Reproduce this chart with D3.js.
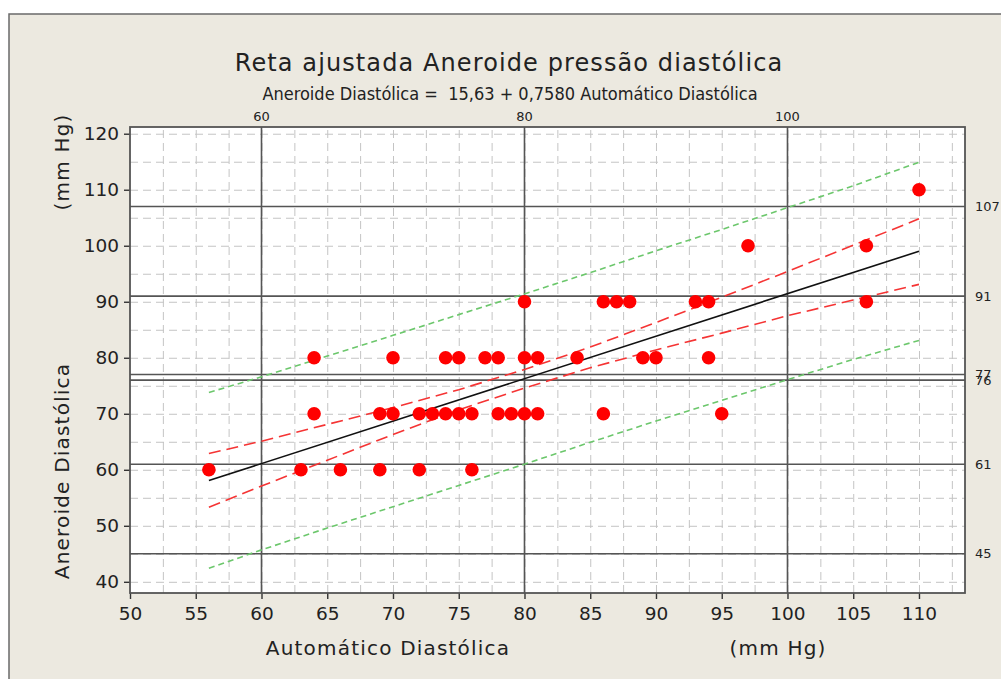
<!DOCTYPE html>
<html>
<head>
<meta charset="utf-8">
<script src="https://cdn.jsdelivr.net/npm/d3@7"></script>
<style>
    body { margin: 0; background: #ffffff; }
    text { font-family: "DejaVu Sans", Verdana, sans-serif; fill: #222; }
</style>
</head>
<body>
<div id="chart"></div>
<script>
// ---------------------------------------------------------------------------- //
//                                     Data                                     //
// ---------------------------------------------------------------------------- //
var titleText = "Reta ajustada Aneroide pressão diastólica";
var subtitleText = "Aneroide Diastólica =  15,63 + 0,7580 Automático Diastólica";

// observed points (Automático, Aneroide)
var pointsX = [110, 97, 106,
    80, 86, 87, 88, 93, 94, 106,
    64, 70, 74, 75, 77, 78, 80, 81, 84, 89, 90, 94,
    64, 69, 70, 72, 73, 74, 75, 76, 78, 79, 80, 81, 86, 95,
    56, 63, 66, 69, 72, 76];
var pointsY = [110, 100, 100,
    90, 90, 90, 90, 90, 90, 90,
    80, 80, 80, 80, 80, 80, 80, 80, 80, 80, 80, 80,
    70, 70, 70, 70, 70, 70, 70, 70, 70, 70, 70, 70, 70, 70,
    60, 60, 60, 60, 60, 60];

// fitted line ends
var fitX = [56, 110];
var fitY = [58.08, 99.01];

// bands
var bandX   = [56, 60, 65, 70, 75, 80, 85, 90, 95, 100, 105, 110];
var ciUpper = [62.9, 65.1, 68.1, 71.1, 74.3, 77.9, 81.9, 86.3, 90.8, 95.4, 100.1, 104.8];
var ciLower = [53.3, 57.1, 61.7, 66.3, 70.7, 74.6, 78.2, 81.4, 84.4, 87.5, 90.3, 93.1];
var piUpper = [73.8, 76.6, 80.3, 84.0, 87.7, 91.4, 95.2, 99.1, 102.9, 106.8, 110.7, 114.9];
var piLower = [42.4, 45.7, 49.6, 53.4, 57.2, 61.0, 64.9, 68.7, 72.4, 76.1, 79.7, 83.1];

// reference lines
var refX = [60, 80, 100];
var refY = [107, 91, 77, 76, 61, 45];

// axis ticks
var xTicks = [50, 55, 60, 65, 70, 75, 80, 85, 90, 95, 100, 105, 110];
var yTicks = [40, 50, 60, 70, 80, 90, 100, 110, 120];

// ---------------------------------------------------------------------------- //
//                                    Drawing                                   //
// ---------------------------------------------------------------------------- //
var W = 1001, H = 679;
var plot = {left: 130, right: 965, top: 127, bottom: 593};

var svg = d3.select("#chart").append("svg")
    .attr("width", W)
    .attr("height", H);

// Frame
//_______________
svg.append("rect")
    .attr("x", 9).attr("y", 14)
    .attr("width", W + 20).attr("height", H + 20)
    .attr("fill", "#ece9e0")
    .attr("stroke", "#6a6a6a")
    .attr("stroke-width", 1.5);

// Scales
//_______________
var x = d3.scaleLinear().domain([50, 113.5]).range([plot.left, plot.right]);
var y = d3.scaleLinear().domain([38, 121.2]).range([plot.bottom, plot.top]);

// plot area
svg.append("rect")
    .attr("x", plot.left).attr("y", plot.top)
    .attr("width", plot.right - plot.left)
    .attr("height", plot.bottom - plot.top)
    .attr("fill", "#ffffff");

// Grid
//_______________
svg.append("g")
    .attr("transform", "translate(0," + plot.bottom + ")")
    .call(d3.axisBottom(x).tickValues(d3.range(52.5, 113.5, 2.5))
        .tickSize(-(plot.bottom - plot.top)).tickFormat(""))
    .call(function(g){
        g.select(".domain").remove();
        g.selectAll("line").attr("stroke", "#c4c4c4").attr("stroke-dasharray", "8,5");
    });

svg.append("g")
    .attr("transform", "translate(" + plot.left + ",0)")
    .call(d3.axisLeft(y).tickValues(d3.range(40, 121, 5))
        .tickSize(-(plot.right - plot.left)).tickFormat(""))
    .call(function(g){
        g.select(".domain").remove();
        g.selectAll("line").attr("stroke", "#c4c4c4").attr("stroke-dasharray", "8,5");
    });

// Reference lines
//_______________
svg.selectAll(".refx").data(refX).enter().append("line")
    .attr("x1", function(d){ return x(d); }).attr("x2", function(d){ return x(d); })
    .attr("y1", plot.top).attr("y2", plot.bottom)
    .attr("stroke", "#555").attr("stroke-width", 1.6);

svg.selectAll(".refxlab").data(refX).enter().append("text")
    .attr("x", function(d){ return x(d); })
    .attr("y", plot.top - 6)
    .attr("text-anchor", "middle")
    .style("font-size", "13px")
    .text(function(d){ return d; });

svg.selectAll(".refy").data(refY).enter().append("line")
    .attr("x1", plot.left).attr("x2", plot.right)
    .attr("y1", function(d){ return y(d); }).attr("y2", function(d){ return y(d); })
    .attr("stroke", "#555").attr("stroke-width", 1.6);

svg.selectAll(".refylab").data(refY).enter().append("text")
    .attr("x", plot.right + 10)
    .attr("y", function(d){ return y(d); })
    .attr("dy", "0.36em")
    .style("font-size", "13px")
    .text(function(d){ return d; });

// Bands
//_______________
var bandLine = function(vals){
    return d3.line()
        .x(function(d, i){ return x(bandX[i]); })
        .y(function(d){ return y(d); })(vals);
};

[piUpper, piLower].forEach(function(v){
    svg.append("path")
        .attr("d", bandLine(v))
        .attr("fill", "none")
        .attr("stroke", "#6cc76c")
        .attr("stroke-width", 1.6)
        .attr("stroke-dasharray", "6,4");
});

[ciUpper, ciLower].forEach(function(v){
    svg.append("path")
        .attr("d", bandLine(v))
        .attr("fill", "none")
        .attr("stroke", "#f53434")
        .attr("stroke-width", 1.6)
        .attr("stroke-dasharray", "12,6");
});

// Fit line
//_______________
svg.append("path")
    .attr("d", d3.line()
        .x(function(d, i){ return x(fitX[i]); })
        .y(function(d){ return y(d); })(fitY))
    .attr("fill", "none")
    .attr("stroke", "#111")
    .attr("stroke-width", 1.6);

// Points
//_______________
svg.selectAll(".pt").data(pointsX).enter().append("circle")
    .attr("cx", function(d){ return x(d); })
    .attr("cy", function(d, i){ return y(pointsY[i]); })
    .attr("r", 6.8)
    .attr("fill", "#ff0000");

// Axes
//_______________
var xAxis = svg.append("g")
    .attr("transform", "translate(0," + plot.bottom + ")")
    .call(d3.axisBottom(x).tickValues(xTicks).tickSize(6).tickPadding(8));
var yAxis = svg.append("g")
    .attr("transform", "translate(" + plot.left + ",0)")
    .call(d3.axisLeft(y).tickValues(yTicks).tickSize(6).tickPadding(5));

[xAxis, yAxis].forEach(function(g){
    g.select(".domain").remove();
    g.selectAll("line").attr("stroke", "#333").attr("stroke-width", 1.4);
    g.selectAll("text").style("font-size", "18.5px")
        .style("font-family", "'DejaVu Sans', Verdana, sans-serif").attr("fill", "#222");
});

// plot border
svg.append("rect")
    .attr("x", plot.left).attr("y", plot.top)
    .attr("width", plot.right - plot.left)
    .attr("height", plot.bottom - plot.top)
    .attr("fill", "none")
    .attr("stroke", "#555")
    .attr("stroke-width", 1.8);

// Titles
//_______________
svg.append("text")
    .attr("x", 509).attr("y", 71)
    .attr("text-anchor", "middle")
    .style("font-size", "24px")
    .style("letter-spacing", "1.1px")
    .text(titleText);

svg.append("text")
    .attr("x", 510).attr("y", 100)
    .attr("text-anchor", "middle")
    .style("white-space", "pre")
    .style("font-family", "'DejaVu Sans Condensed', 'DejaVu Sans', sans-serif")
    .style("font-size", "18px")
    .text(subtitleText);

svg.append("text")
    .attr("x", 388).attr("y", 655)
    .attr("text-anchor", "middle")
    .style("font-size", "20px")
    .style("letter-spacing", "1.2px")
    .text("Automático Diastólica");

svg.append("text")
    .attr("x", 778).attr("y", 655)
    .attr("text-anchor", "middle")
    .style("font-size", "20px")
    .style("letter-spacing", "1.2px")
    .text("(mm Hg)");

svg.append("text")
    .attr("transform", "translate(69,471) rotate(-90)")
    .attr("text-anchor", "middle")
    .style("font-size", "20px")
    .style("letter-spacing", "1.2px")
    .text("Aneroide Diastólica");

svg.append("text")
    .attr("transform", "translate(69,162) rotate(-90)")
    .attr("text-anchor", "middle")
    .style("font-size", "20px")
    .style("letter-spacing", "1.2px")
    .text("(mm Hg)");
</script>
</body>
</html>
